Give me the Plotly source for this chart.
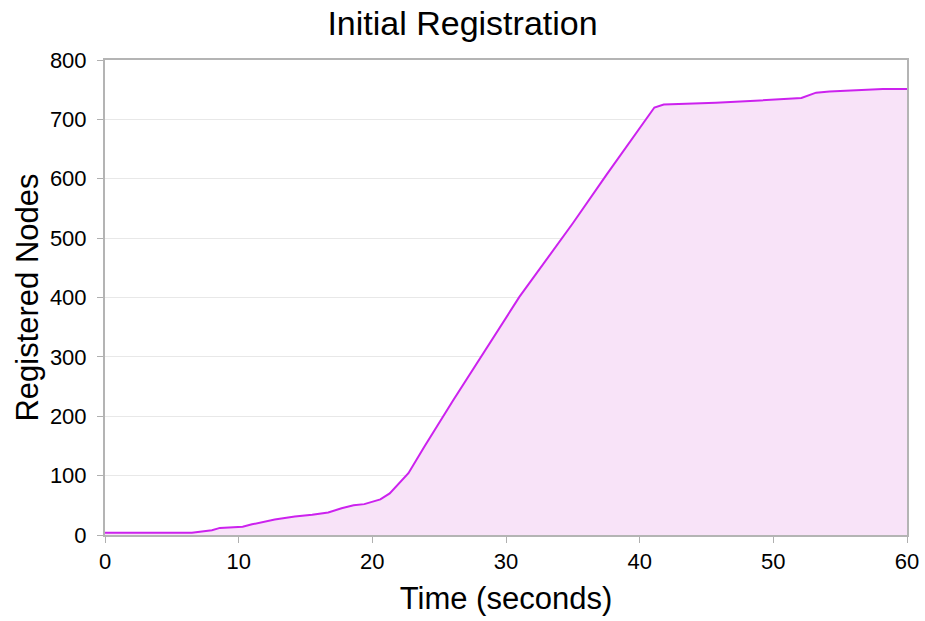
import plotly.graph_objects as go

time_s = [0, 6.5, 8.0, 8.6, 10.3, 11.0, 12.7, 14.2, 15.5, 16.7, 17.7, 18.6, 19.4, 20.6, 21.3,
          22.7, 23.9, 26.05, 31.0, 35.0, 37.5, 40.8, 41.1, 41.8, 45.7, 49.0, 52.1, 53.2, 54.2,
          56.2, 58.2, 60]
registered = [4, 4, 8, 12, 14, 18, 26, 31, 34, 38, 45, 50, 52, 60, 70,
              104, 149, 227, 401, 525, 606, 710, 720, 725, 728, 732, 736, 745, 747,
              749, 751, 751]

x_ticks = [0, 10, 20, 30, 40, 50, 60]
y_ticks = [0, 100, 200, 300, 400, 500, 600, 700, 800]

font = "Liberation Sans, Arial, sans-serif"

fig = go.Figure()
fig.add_trace(go.Scatter(
    x=time_s, y=registered, mode="lines",
    line=dict(color="#CC22EE", width=2),
    fill="tozeroy", fillcolor="#F8E3F8",
    showlegend=False,
))

fig.update_layout(
    width=925, height=621,
    margin=dict(l=105, r=18, t=60, b=86, autoexpand=False),
    paper_bgcolor="white", plot_bgcolor="white",
    font=dict(family=font, color="black"),
    title=dict(text="Initial Registration", x=0.5, xanchor="center", y=0.963, yanchor="middle",
               font=dict(size=34, family=font, color="black")),
    xaxis=dict(
        range=[0, 60], tickvals=x_ticks, ticks="outside", ticklen=6, tickcolor="#B0B0B0",
        showgrid=False, zeroline=False, showline=True, linecolor="#B4B4B4", linewidth=2,
        mirror=True, tickfont=dict(size=22, family=font, color="black"),
        title=dict(text="Time (seconds)", font=dict(size=31, family=font, color="black"), standoff=14),
    ),
    yaxis=dict(
        range=[0, 800], tickvals=y_ticks, ticks="outside", ticklen=6, tickcolor="#B0B0B0",
        showgrid=True, gridcolor="#E8E8E8", gridwidth=1, zeroline=False,
        showline=True, linecolor="#B4B4B4", linewidth=2, mirror=True,
        tickfont=dict(size=22, family=font, color="black"), ticklabelstandoff=6,
        title=dict(text="Registered Nodes", font=dict(size=31, family=font, color="black"), standoff=2),
    ),
)

fig.write_html("out.html", post_script="document.body.style.margin='0';",
               config={"displayModeBar": False})
